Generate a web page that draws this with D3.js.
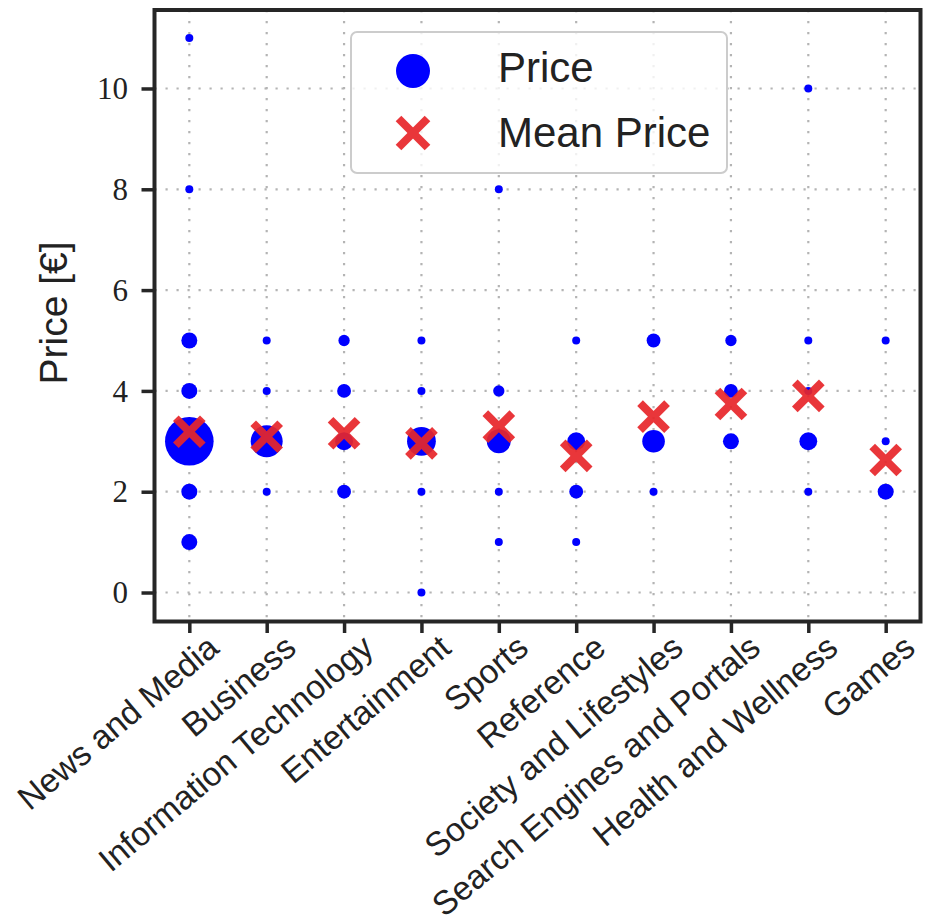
<!DOCTYPE html>
<html>
<head>
<meta charset="utf-8">
<script src="https://cdn.jsdelivr.net/npm/d3@7/dist/d3.min.js"></script>
<style>
  html, body { margin: 0; padding: 0; background: #fff; }
  svg { display: block; }
</style>
</head>
<body>
<svg id="chart" width="925" height="922"></svg>
<script>
// ---------------- data ----------------
const categories = [
  "News and Media", "Business", "Information Technology", "Entertainment",
  "Sports", "Reference", "Society and Lifestyles", "Search Engines and Portals",
  "Health and Wellness", "Games"
];
// individual price levels: [category, price, number of sites]
const pricePoints = [
  ["News and Media", 11, 1], ["News and Media", 8, 1], ["News and Media", 5, 4],
  ["News and Media", 4, 4], ["News and Media", 3, 37], ["News and Media", 2, 4],
  ["News and Media", 1, 4],
  ["Business", 5, 1], ["Business", 4, 1], ["Business", 3, 16], ["Business", 2, 1],
  ["Information Technology", 5, 2], ["Information Technology", 4, 3],
  ["Information Technology", 3, 5], ["Information Technology", 2, 3],
  ["Entertainment", 5, 1], ["Entertainment", 4, 1], ["Entertainment", 3, 13],
  ["Entertainment", 2, 1], ["Entertainment", 0, 1],
  ["Sports", 8, 1], ["Sports", 4, 2], ["Sports", 3, 9], ["Sports", 2, 1], ["Sports", 1, 1],
  ["Reference", 5, 1], ["Reference", 3, 5], ["Reference", 2, 3], ["Reference", 1, 1],
  ["Society and Lifestyles", 5, 3], ["Society and Lifestyles", 3, 8], ["Society and Lifestyles", 2, 1],
  ["Search Engines and Portals", 5, 2], ["Search Engines and Portals", 4, 3],
  ["Search Engines and Portals", 3, 4],
  ["Health and Wellness", 10, 1], ["Health and Wellness", 5, 1], ["Health and Wellness", 4, 1],
  ["Health and Wellness", 3, 5], ["Health and Wellness", 2, 1],
  ["Games", 5, 1], ["Games", 3, 1], ["Games", 2, 4]
];
const meanPrice = [3.19, 3.09, 3.16, 2.96, 3.29, 2.71, 3.49, 3.74, 3.90, 2.63];
const yTicks = [0, 2, 4, 6, 8, 10];
const legendLabels = ["Price", "Mean Price"];
const yLabel = "Price [\u20AC]";

// ---------------- layout ----------------
const svg = d3.select("#chart");
const plot = { left: 154.5, right: 920.5, top: 10, bottom: 621.5 };
const BLUE = "#0000ff", RED = "#e8262a", FRAME = "#262626", TEXT = "#222";
const SANS = "'Liberation Sans', Arial, sans-serif";
const SERIF = "'Liberation Serif', 'Times New Roman', serif";

const x = d3.scalePoint().domain(categories).range([plot.left, plot.right]).padding(0.45);
const y = d3.scaleLinear().domain([-0.575, 11.557]).range([plot.bottom, plot.top]);
const r = d3.scaleSqrt().domain([0, 37]).range([0, 24.3]);

// grid
const grid = svg.append("g").attr("stroke", "#b4b4b4").attr("stroke-width", 2.2)
  .attr("stroke-dasharray", "2.2 8.8").attr("fill", "none");
grid.selectAll("line.v").data(categories).join("line").attr("class", "v")
  .attr("x1", d => x(d)).attr("x2", d => x(d)).attr("y1", plot.top).attr("y2", plot.bottom);
grid.selectAll("line.h").data(yTicks).join("line").attr("class", "h")
  .attr("x1", plot.left).attr("x2", plot.right).attr("y1", d => y(d)).attr("y2", d => y(d));

// dots
svg.append("g").selectAll("circle").data(pricePoints).join("circle")
  .attr("cx", d => x(d[0])).attr("cy", d => y(d[1])).attr("r", d => r(d[2]))
  .attr("fill", BLUE);

// mean crosses
function cross(g, L, w) {
  g.append("line").attr("x1", -L).attr("y1", -L).attr("x2", L).attr("y2", L);
  g.append("line").attr("x1", -L).attr("y1", L).attr("x2", L).attr("y2", -L);
  g.attr("stroke", RED).attr("stroke-width", w).attr("stroke-linecap", "butt").attr("opacity", 0.92);
}
svg.append("g").selectAll("g").data(meanPrice).join("g")
  .attr("transform", (d, i) => `translate(${x(categories[i])},${y(d)})`)
  .each(function () { cross(d3.select(this), 13.5, 8); });

// axes
const xAxis = d3.axisBottom(x).tickSize(11.5).tickPadding(0).tickFormat("");
const gx = svg.append("g").attr("transform", `translate(0,${plot.bottom})`).call(xAxis);
gx.select(".domain").remove();
gx.selectAll(".tick line").attr("stroke", FRAME).attr("stroke-width", 3.5);

gx.selectAll(".tick").append("text")
  .attr("transform", `translate(31,${651 - plot.bottom}) rotate(-40)`)
  .attr("text-anchor", "end").attr("fill", TEXT)
  .style("font-family", SANS).style("font-size", "33.5px")
  .text(d => d);

const yAxis = d3.axisLeft(y).tickValues(yTicks).tickSize(13).tickPadding(0).tickFormat("");
const gy = svg.append("g").attr("transform", `translate(${plot.left},0)`).call(yAxis);
gy.select(".domain").remove();
gy.selectAll(".tick line").attr("stroke", FRAME).attr("stroke-width", 3.5);
gy.selectAll(".tick").append("text")
  .attr("x", 128 - plot.left).attr("dy", "0.33em").attr("text-anchor", "end")
  .attr("fill", TEXT).style("font-family", SERIF).style("font-size", "31px")
  .text(d => d);

// frame
svg.append("rect").attr("x", plot.left).attr("y", plot.top)
  .attr("width", plot.right - plot.left).attr("height", plot.bottom - plot.top)
  .attr("fill", "none").attr("stroke", FRAME).attr("stroke-width", 4);

// y label
svg.append("text").attr("transform", "translate(67,313) rotate(-90)")
  .attr("text-anchor", "middle").attr("fill", TEXT)
  .style("font-family", SANS).style("font-size", "39px").text(yLabel);

// legend
const lg = svg.append("g");
lg.append("rect").attr("x", 351).attr("y", 32).attr("width", 376).attr("height", 141)
  .attr("rx", 6).attr("fill", "#fff").attr("fill-opacity", 0.8)
  .attr("stroke", "#cccccc").attr("stroke-width", 2);
lg.append("circle").attr("cx", 413).attr("cy", 71).attr("r", 17).attr("fill", BLUE);
cross(lg.append("g").attr("transform", "translate(413,133)"), 14.5, 8);
lg.selectAll("text").data(legendLabels).join("text")
  .attr("x", 498).attr("y", (d, i) => [82, 147][i]).attr("fill", TEXT)
  .style("font-family", SANS).style("font-size", "42px").text(d => d);
</script>
</body>
</html>
